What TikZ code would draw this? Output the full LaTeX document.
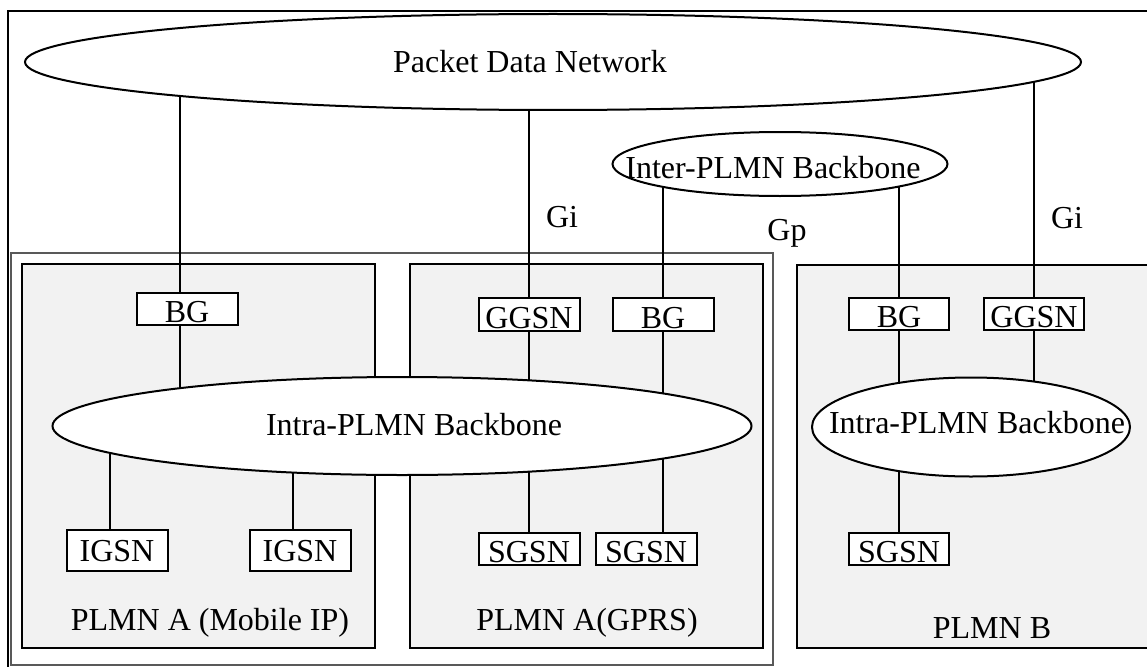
\documentclass[tikz,border=0pt]{standalone}
\usepackage{fontspec}
\setmainfont{Liberation Serif}
\usetikzlibrary{shapes.geometric}
\pgfdeclarelayer{frames}
\pgfdeclarelayer{links}
\pgfsetlayers{frames,links,main}
\definecolor{plmnfill}{HTML}{F2F2F2}
\begin{document}
\begin{tikzpicture}[x=1pt,y=-1pt,
    font=\fontsize{32}{38}\selectfont,
    net/.style={draw,ellipse,fill=white,line width=2pt,inner sep=0pt},
    elem/.style={draw,rectangle,fill=white,line width=2pt,inner sep=0pt,
        minimum width=101pt,minimum height=32pt,text height=27pt,text depth=0pt},
    tall/.style={minimum height=41pt,text height=21pt},
    plmn/.style={draw,fill=plmnfill,line width=2pt},
    link/.style={line width=2pt}]
    \useasboundingbox (0,0) rectangle (1147,666);
    \clip (0,0) rectangle (1147,666);
    %% networks
    \node[net,minimum width=1056pt,minimum height=96pt] (pdn) at (553,62) {};
    \node[anchor=base] (pdnlbl) at (530,73) {Packet Data Network};
    \node[net,minimum width=335pt,minimum height=64pt] (inter) at (780,164) {};
    \node[anchor=base] (interlbl) at (773,178) {Inter-PLMN Backbone};
    \node[net,minimum width=699pt,minimum height=98pt] (intraA) at (402,426) {};
    \node[anchor=base] (intraAlbl) at (414,435) {Intra-PLMN Backbone};
    \node[net,minimum width=318pt,minimum height=99pt] (intraB) at (971,427) {};
    \node[anchor=base] (intraBlbl) at (977,433) {Intra-PLMN Backbone};
    %% PLMN A (Mobile IP)
    \node[elem] (bgA) at (187,309) {BG};
    \node[elem,tall] (igsnA) at (117,550.5) {IGSN};
    \node[elem,tall] (igsnB) at (300,550.5) {IGSN};
    %% PLMN A (GPRS)
    \node[elem,minimum height=33pt] (ggsnG) at (529,314.5) {GGSN};
    \node[elem,minimum height=33pt] (bgG) at (663,314.5) {BG};
    \node[elem] (sgsnG) at (529,549) {SGSN};
    \node[elem] (sgsnH) at (646,549) {SGSN};
    %% PLMN B
    \node[elem,minimum width=100pt] (bgB) at (899,314) {BG};
    \node[elem,minimum width=100pt] (ggsnB) at (1034,314) {GGSN};
    \node[elem,minimum width=100pt] (sgsnB) at (899,549) {SGSN};
    %% interface labels
    \node[anchor=base] (gi) at (562,227) {Gi};
    \node[anchor=base] (gp) at (787,240) {Gp};
    \node[anchor=base] (gib) at (1067,228) {Gi};
    \node[anchor=base] (mipl) at (210,630) {PLMN A (Mobile IP)};
    \node[anchor=base] (gprsl) at (587,630) {PLMN A(GPRS)};
    \node[anchor=base] (plmnbl) at (992,638) {PLMN B};
    %% frames
    \begin{pgfonlayer}{frames}
        \draw[line width=2.5pt] (1160,11) -- (8,11) -- (8,680);
        \draw[black!65,line width=1.5pt] (11,253) rectangle (773,665);
        \draw[plmn] (22,264) rectangle (375,648);
        \draw[plmn] (410,264) rectangle (763,648);
        \draw[plmn] (797,265) rectangle (1170,648);
    \end{pgfonlayer}
    %% links
    \begin{pgfonlayer}{links}
        \draw[link] ([xshift=-7pt]bgA.north) -- ([xshift=-7pt]bgA.north |- pdn.center);
        \draw[link] ([xshift=-7pt]bgA.south) -- ([xshift=-7pt]bgA.south |- intraA.center);
        \draw[link] ([xshift=-7pt]igsnA.north) -- ([xshift=-7pt]igsnA.north |- intraA.center);
        \draw[link] ([xshift=-7pt]igsnB.north) -- ([xshift=-7pt]igsnB.north |- intraA.center);
        \draw[link] (ggsnG.north) -- (ggsnG.north |- pdn.center);
        \draw[link] (ggsnG.south) -- (ggsnG.south |- intraA.center);
        \draw[link] (sgsnG.north) -- (sgsnG.north |- intraA.center);
        \draw[link] (bgG.north) -- (bgG.north |- inter.center);
        \draw[link] (bgG.south) -- (bgG.south |- intraA.center);
        \draw[link] (sgsnH.north -| bgG) -- (bgG |- intraA.center);
        \draw[link] (bgB.north) -- (bgB.north |- inter.center);
        \draw[link] (bgB.south) -- (bgB.south |- intraB.center);
        \draw[link] (sgsnB.north) -- (sgsnB.north |- intraB.center);
        \draw[link] (ggsnB.north) -- (ggsnB.north |- pdn.center);
        \draw[link] (ggsnB.south) -- (ggsnB.south |- intraB.center);
    \end{pgfonlayer}
\end{tikzpicture}
\end{document}
